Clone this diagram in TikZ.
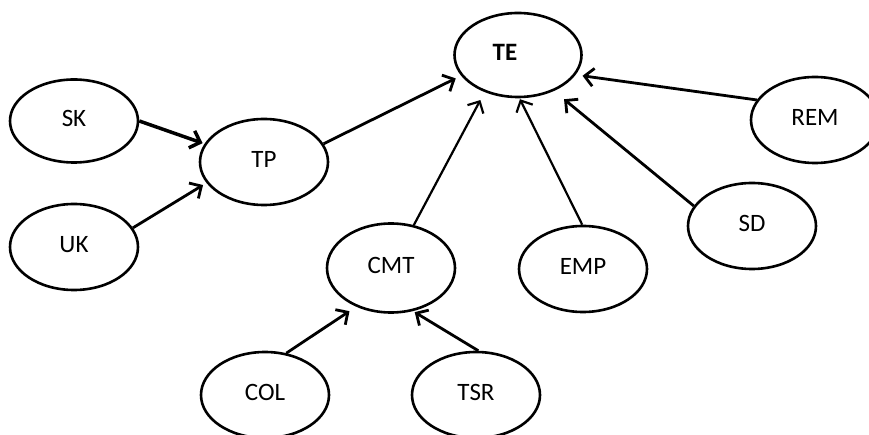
\documentclass[tikz,border=0pt]{standalone}
\usepackage{fontspec}
\setmainfont{Carlito}
\usetikzlibrary{shapes.geometric,arrows.meta}
\tikzset{
  ell/.style={draw=black, line width=2.6pt, ellipse, minimum width=128pt, minimum height=86pt, inner sep=0pt,
    font=\fontsize{25}{30}\selectfont, text depth=6pt},
  conn/.style={line width=2.8pt, -{Straight Barb[length=9pt,width=18pt]}},
  thinconn/.style={conn, line width=2.2pt},
  thickconn/.style={conn, line width=3.5pt}
}
\begin{document}
\begin{tikzpicture}[x=1pt,y=-1pt]
\useasboundingbox (0,0) rectangle (869,435);
\clip (0,0) rectangle (869,435);
\node[ell, minimum width=127pt, minimum height=84pt] (TE) at (518,55) {};
\node[font=\fontsize{25}{30}\selectfont\bfseries] (TElab) at (505,52) {TE};
\node[ell, minimum height=83pt] (SK) at (74,121) {SK};
\node[ell] (TP) at (264,162) {TP};
\node[ell] (UK) at (74,247) {UK};
\node[ell, minimum height=89pt] (CMT) at (391,268) {CMT};
\node[ell] (COL) at (265,395) {COL};
\node[ell] (TSR) at (476,395) {TSR};
\node[ell] (EMP) at (583,269) {EMP};
\node[ell] (SD) at (752,226) {SD};
\node[ell] (REM) at (815,120) {REM};

\draw[thickconn, shorten >=2pt] (SK.0) -- (TP.163);
\draw[conn, shorten >=4pt] (UK.18) -- (TP.200);
\draw[conn, shorten >=6pt] (TP.17) -- (TE.200);
\draw[thinconn, shorten >=9pt] (CMT.62) -- (TE.228);
\draw[thinconn, shorten >=1pt] (EMP.91) -- (TE.272);
\draw[conn, shorten >=13pt] (SD.161) -- (TE.315);
\draw[conn, shorten >=7pt] (REM.161) -- (TE.341);
\draw[conn, shorten >=8pt] (COL.63) -- (CMT.228);
\draw[conn, shorten >=2pt] (TSR.87) -- (CMT.297);
\end{tikzpicture}
\end{document}
